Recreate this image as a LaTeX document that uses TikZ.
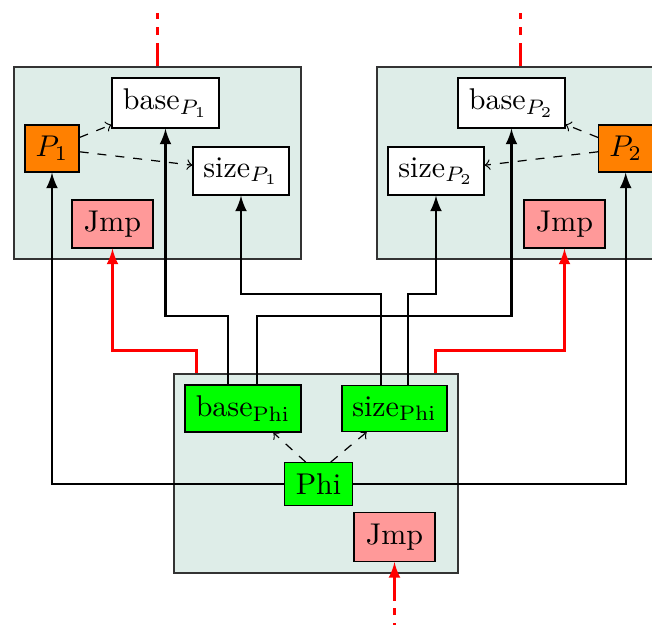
\documentclass[tikz,border=0pt]{standalone}
\definecolor{boxbg}{RGB}{222,237,232}
\begin{document}
\begin{tikzpicture}[x=0.33333pt,y=-0.33333pt,
  region/.style={draw=black!80,fill=boxbg,inner sep=0pt,line width=0.4pt},
  cell/.style={draw,inner sep=0pt,line width=0.4pt},
  white cell/.style={cell,fill=white},
  green cell/.style={cell,fill=green},
  orange cell/.style={cell,fill=orange},
  jmp cell/.style={cell,fill=red!40},
  conn/.style={thick,-latex},
  redconn/.style={thick,red,-latex},
  dconn/.style={dashed,->}]
\clip (0,0) rectangle (652,625);
% regions
\node[region,minimum width=95.67pt,minimum height=64pt] (boxl) at (157.5,163) {};
\node[region,minimum width=95.67pt,minimum height=64pt] (boxr) at (520.5,163) {};
\node[region,minimum width=94.67pt,minimum height=66.33pt] (boxb) at (316,473.5) {};
% left group
\node[white cell,minimum width=35.67pt,minimum height=16.67pt] (bp1) at (165.5,103) {base$_{P_1}$};
\node[orange cell,minimum width=18pt,minimum height=15.67pt] (p1) at (52,148.5) {$P_1$};
\node[white cell,minimum width=32pt,minimum height=16pt] (sp1) at (241,171) {size$_{P_1}$};
\node[jmp cell,minimum width=27pt,minimum height=16pt] (jl) at (112.5,224) {Jmp};
% right group
\node[white cell,minimum width=35.67pt,minimum height=16.67pt] (bp2) at (511.5,103) {base$_{P_2}$};
\node[orange cell,minimum width=18pt,minimum height=15.67pt] (p2) at (625.7,148.5) {$P_2$};
\node[white cell,minimum width=32pt,minimum height=16pt] (sp2) at (436,171) {size$_{P_2}$};
\node[jmp cell,minimum width=27pt,minimum height=16pt] (jr) at (564.5,224) {Jmp};
% bottom group
\node[green cell,minimum width=38.67pt,minimum height=15.67pt] (bphi) at (243,408.5) {base$_{\mathrm{Phi}}$};
\node[green cell,minimum width=35pt,minimum height=15.33pt] (sphi) at (394.5,408.5) {size$_{\mathrm{Phi}}$};
\node[green cell,minimum width=22.67pt,minimum height=14.33pt] (phi) at (318.5,484.2) {Phi};
\node[jmp cell,minimum width=27pt,minimum height=16.33pt] (jb) at (394.5,537) {Jmp};
% helper coordinates
\coordinate (tl) at (157.5,13);
\coordinate (tr) at (520.5,13);
\coordinate (bb) at (394.5,625);
\coordinate (h1) at (0,316);
\coordinate (h2) at (0,294);
\coordinate (h3) at (0,350.7);
% dashed internal arrows
\draw[dconn] (p1) -- (bp1);
\draw[dconn] (p1) -- (sp1);
\draw[dconn] (p2) -- (bp2);
\draw[dconn] (p2) -- (sp2);
\draw[dconn] ([xshift=-4.27pt]phi.north) -- ([xshift=10.1pt]bphi.south);
\draw[dconn] ([xshift=4.07pt]phi.north) -- ([xshift=-9.27pt]sphi.south);
% black connectors
\draw[conn] (phi.west) -| (p1.south);
\draw[conn] (phi.east) -| (p2.south);
\draw[conn] ([xshift=-5pt]bphi.north) -- ([xshift=-5pt]bphi.north |- h1) -| (bp1.south);
\draw[conn] ([xshift=4.67pt]bphi.north) -- ([xshift=4.67pt]bphi.north |- h1) -| (bp2.south);
\draw[conn] ([xshift=-4.5pt]sphi.north) -- ([xshift=-4.5pt]sphi.north |- h2) -| (sp1.south);
\draw[conn] ([xshift=4.5pt]sphi.north) -- ([xshift=4.5pt]sphi.north |- h2) -| (sp2.south);
% red connectors
\draw[redconn] ([xshift=-39.77pt]boxb.north) -- ([xshift=-39.77pt]boxb.north |- h3) -| (jl.south);
\draw[redconn] ([xshift=39.77pt]boxb.north) -- ([xshift=39.77pt]boxb.north |- h3) -| (jr.south);
\draw[thick,red,dash pattern=on 7.7pt off 2.7pt on 2.7pt off 2.7pt on 2pt off 20pt] (boxl.north) -- (tl);
\draw[thick,red,dash pattern=on 7.7pt off 2.7pt on 2.7pt off 2.7pt on 2pt off 20pt] (boxr.north) -- (tr);
\draw[redconn,dash pattern=on 0.7pt off 2.6pt on 2.3pt off 2.4pt on 40pt] (bb) -- (jb.south);
\end{tikzpicture}
\end{document}
